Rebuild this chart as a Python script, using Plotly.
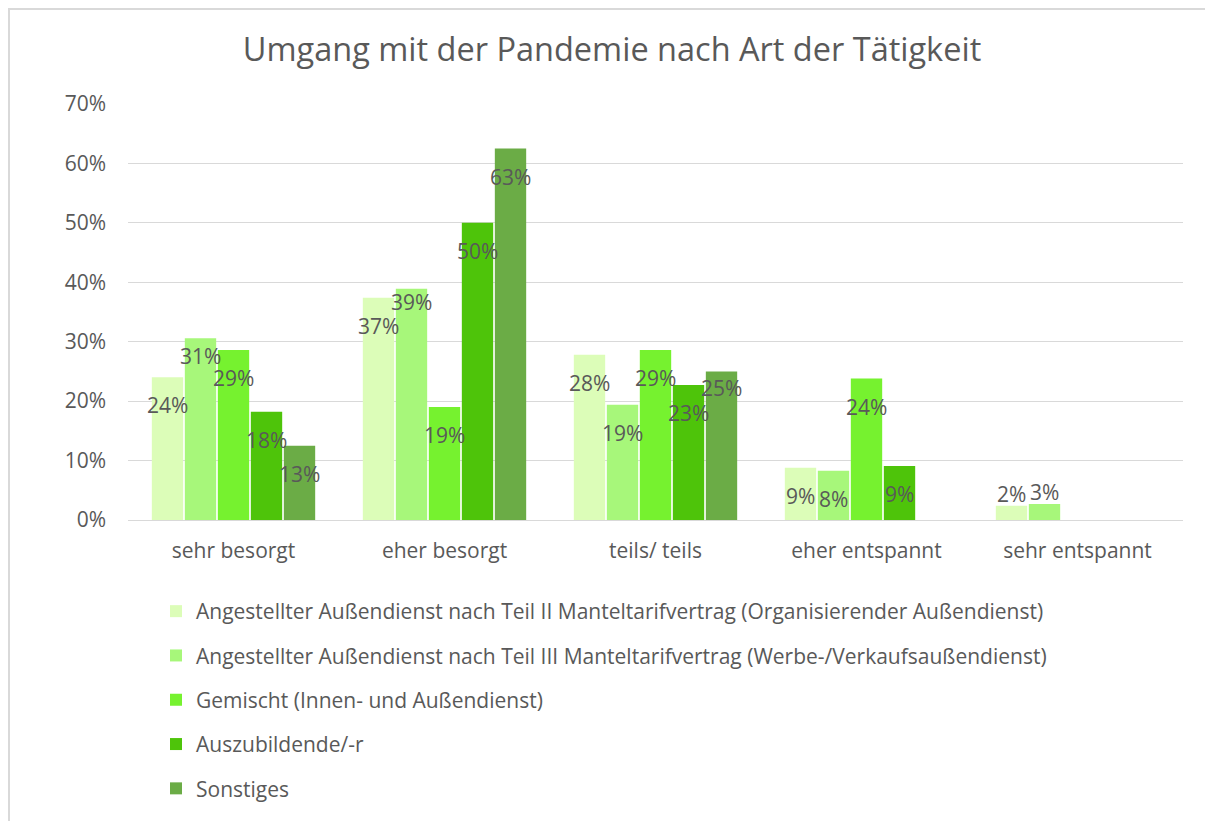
import plotly.graph_objects as go

categories = ["sehr besorgt", "eher besorgt", "teils/ teils", "eher entspannt", "sehr entspannt"]
series_names = [
    "Angestellter Außendienst nach Teil II Manteltarifvertrag (Organisierender Außendienst)",
    "Angestellter Außendienst nach Teil III Manteltarifvertrag (Werbe-/Verkaufsaußendienst)",
    "Gemischt (Innen- und Außendienst)",
    "Auszubildende/-r",
    "Sonstiges",
]
teil2 = [24.0, 37.4, 27.8, 8.8, 2.4]
teil3 = [30.6, 38.9, 19.4, 8.3, 2.7]
gemischt = [28.6, 19.0, 28.6, 23.8, None]
azubi = [18.2, 50.0, 22.7, 9.1, None]
sonstiges = [12.5, 62.5, 25.0, None, None]
series_values = [teil2, teil3, gemischt, azubi, sonstiges]
colors = ["#DCFDB8", "#A7F77A", "#76F22F", "#4EC40A", "#6BAC46"]

# label vertical offsets (px) relative to bar top
label_shift = [
    [-28, -28, -28, -28, 12],
    [-18, -13, -28, -28, 12],
    [-28, -28, -28, -28, 0],
    [-28, -28, -28, -28, 0],
    [-28, -28, -17, 0, 0],
]

FONT = "Open Sans"
GREY = "#595959"

fig = go.Figure()
for name, vals, col in zip(series_names, series_values, colors):
    fig.add_trace(go.Bar(
        name=name, x=categories, y=vals, marker=dict(color=col, line=dict(width=0)),
        legendgroup=name, hoverinfo="skip",
    ))

# page draws the figure with an 8px body margin
OFF = 8
W, H = 1213, 821
# target screen geometry of plot area
SX0, SX1, SY0, SY1 = 128, 1183, 104, 520
L = SX0 - OFF
R = W - (SX1 - OFF)
T = SY0 - OFF
B = H - (SY1 - OFF)
plot_w = W - L - R
plot_h = H - T - B
cat_px = plot_w / len(categories)
bargap = 0.218
slot = cat_px * (1 - bargap) / len(series_values)

annotations = []
for i, vals in enumerate(series_values):
    for j, v in enumerate(vals):
        if v is None:
            continue
        annotations.append(dict(
            x=categories[j], y=v, xref="x", yref="y",
            text=f"{int(v + 0.5)}%", showarrow=False,
            xshift=(i - (len(series_values) - 1) / 2) * slot,
            yshift=label_shift[i][j], yanchor="middle",
            font=dict(family=FONT, size=21, color=GREY),
        ))

def sx(px):  # screen px -> paper x
    return (px - OFF - L) / plot_w
def sy(py):  # screen px -> paper y
    return (H - B - (py - OFF)) / plot_h

fig.update_layout(
    width=W, height=H,
    margin=dict(l=L, r=R, t=T, b=B, autoexpand=False),
    paper_bgcolor="white", plot_bgcolor="white",
    barmode="group", bargap=bargap, bargroupgap=0.05,
    title=dict(text="Umgang mit der Pandemie nach Art der Tätigkeit",
               x=(612 - OFF) / W, xref="container", xanchor="center",
               y=1 - (50 - OFF) / H, yref="container", yanchor="middle",
               font=dict(family=FONT, size=32.5, color=GREY)),
    font=dict(family=FONT, size=21, color=GREY),
    xaxis=dict(showgrid=False, showline=True, linecolor="#D9D9D9", linewidth=1.2,
               ticks="", tickfont=dict(size=21, color=GREY), ticklabelstandoff=12,
               automargin=False),
    yaxis=dict(range=[0, 70], dtick=10, ticksuffix="%", showgrid=True,
               gridcolor="#D9D9D9", gridwidth=1.2, zeroline=False, showline=False,
               tickfont=dict(size=21, color=GREY), ticklabelstandoff=21,
               automargin=False),
    legend=dict(orientation="v", x=sx(156), xanchor="left",
                y=sy(591), yanchor="top", tracegroupgap=14,
                font=dict(size=21, color=GREY), bgcolor="rgba(0,0,0,0)"),
    annotations=annotations,
    shapes=[dict(type="rect", xref="paper", yref="paper",
                 x0=sx(OFF + 1), x1=sx(1240),
                 y0=sy(860), y1=sy(OFF + 1),
                 line=dict(color="#D9D9D9", width=2), layer="below")],
)

fig.write_html("out.html")
